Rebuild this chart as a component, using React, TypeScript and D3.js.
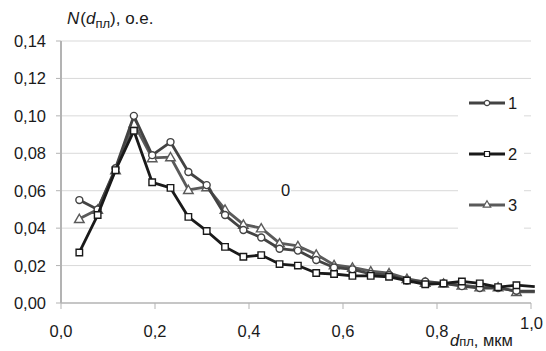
import React from 'react';
import * as d3 from 'd3';

const diameters = [0.039, 0.078, 0.116, 0.155, 0.194, 0.233, 0.271, 0.310, 0.349, 0.388, 0.426, 0.465, 0.504,
    0.543, 0.581, 0.620, 0.659, 0.698, 0.736, 0.775, 0.814, 0.853, 0.891, 0.930, 0.969, 1.008];

const series1 = [0.055, 0.050, 0.072, 0.100, 0.079, 0.086, 0.070, 0.063, 0.047, 0.039, 0.035, 0.029, 0.028,
    0.023, 0.019, 0.018, 0.0155, 0.015, 0.012, 0.0115, 0.0105, 0.009, 0.008, 0.008, 0.0065, 0.0063];
const series2 = [0.027, 0.047, 0.071, 0.092, 0.0645, 0.0615, 0.046, 0.0385, 0.030, 0.0247, 0.0256, 0.0208, 0.020,
    0.016, 0.0155, 0.0145, 0.0145, 0.014, 0.012, 0.010, 0.0105, 0.0115, 0.0105, 0.0085, 0.0095, 0.0088];
const series3 = [0.045, 0.050, 0.071, 0.096, 0.0775, 0.078, 0.0605, 0.062, 0.050, 0.042, 0.040, 0.032, 0.0305,
    0.026, 0.0203, 0.019, 0.017, 0.016, 0.013, 0.011, 0.0105, 0.0095, 0.0085, 0.0085, 0.006, 0.006];

const seriesNames = ['1', '2', '3'];
const yTicks = [0, 0.02, 0.04, 0.06, 0.08, 0.1, 0.12, 0.14];
const yTickLabels = ['0,00', '0,02', '0,04', '0,06', '0,08', '0,10', '0,12', '0,14'];
const xTicks = [0, 0.2, 0.4, 0.6, 0.8, 1.0];
const xTickLabels = ['0,0', '0,2', '0,4', '0,6', '0,8', '1,0'];

const font = 'Liberation Sans, Arial, sans-serif';

export default function App() {
    const width = 546, height = 351;
    const margin = {top: 41, right: 15, bottom: 48, left: 61};
    const x = d3.scaleLinear().domain([0, 1]).range([margin.left, width - margin.right]);
    const y = d3.scaleLinear().domain([0, 0.14]).range([height - margin.bottom, margin.top]);

    const lines = [
        {name: seriesNames[2], values: series3, color: '#5a5a5a', symbol: d3.symbolTriangle, size: 40},
        {name: seriesNames[0], values: series1, color: '#434343', symbol: d3.symbolCircle, size: 38},
        {name: seriesNames[1], values: series2, color: '#1a1a1a', symbol: d3.symbolSquare, size: 42},
    ];
    const legendOrder = [lines[1], lines[2], lines[0]];

    const line = d3.line<number>()
        .x((_, i) => x(diameters[i]))
        .y(d => y(d));

    // legend box hides the grid behind it
    const legendX = 458, legendW = 66;
    const legendY = 84, legendH = 150;

    return (
        <svg width={width} height={height} style={{position: 'absolute', left: 0, top: 0}}
             fontFamily={font}>
            <rect width={width} height={height} fill="white"/>
            {yTicks.slice(1).map(t => (
                <line key={t} x1={x(0)} x2={x(1)} y1={y(t)} y2={y(t)} stroke="#d9d9d9" strokeWidth={1}/>
            ))}
            <rect x={legendX} y={legendY} width={legendW} height={legendH} fill="white"/>

            {/* axes */}
            <line x1={x(0)} x2={x(0)} y1={y(0.14)} y2={y(0)} stroke="#b3b3b3" strokeWidth={2}/>
            {yTicks.map(t => (
                <line key={t} x1={x(0) - 5} x2={x(0)} y1={y(t)} y2={y(t)} stroke="#b3b3b3" strokeWidth={1}/>
            ))}
            <line x1={x(0)} x2={x(1)} y1={y(0)} y2={y(0)} stroke="#b3b3b3" strokeWidth={1.5}/>
            {xTicks.map(t => (
                <line key={t} x1={x(t)} x2={x(t)} y1={y(0)} y2={y(0) + 6} stroke="#b3b3b3" strokeWidth={1}/>
            ))}
            {yTicks.map((t, i) => (
                <text key={t} x={x(0) - 15} y={y(t)} dy="0.36em" textAnchor="end" fontSize={16.5}
                      fill="#1a1a1a">{yTickLabels[i]}</text>
            ))}
            {xTicks.map((t, i) => (
                <text key={t} x={x(t)} y={y(0) + 28 - (i === xTicks.length - 1 ? 8 : 0)} dy="0.36em"
                      textAnchor={i === xTicks.length - 1 ? 'start' : 'middle'}
                      dx={i === xTicks.length - 1 ? -11 : 0}
                      fontSize={16.5} fill="#1a1a1a">{xTickLabels[i]}</text>
            ))}

            {/* axis titles */}
            <text x={67} y={24} fontSize={17} fill="#1a1a1a">
                <tspan fontStyle="italic">N</tspan>
                <tspan dx={1}>(</tspan>
                <tspan fontStyle="italic">d</tspan>
                <tspan fontSize={13} dy={4}>пл</tspan>
                <tspan dy={-4}>), о.е.</tspan>
            </text>
            <text x={450} y={346} fontSize={16.5} fill="#1a1a1a">
                <tspan fontStyle="italic">d</tspan>
                <tspan fontSize={13}>пл</tspan>
                <tspan>, мкм</tspan>
            </text>

            {/* stray label */}
            <rect x={280} y={182} width={11} height={17} fill="white"/>
            <text x={285.5} y={190} dy="0.36em" textAnchor="middle" fontSize={16.5} fill="#1a1a1a">0</text>

            {lines.map(s => (
                <g key={s.name}>
                    <path d={line(s.values) ?? ''} fill="none" stroke={s.color} strokeWidth={2.8}
                          strokeLinejoin="round"/>
                    {s.values.map((v, i) => diameters[i] <= 1 ? (
                        <path key={i} d={d3.symbol(s.symbol, s.size)() ?? ''}
                              transform={`translate(${x(diameters[i])},${y(v) + (s.symbol === d3.symbolTriangle ? 1 : 0)})`}
                              fill="white" stroke={s.color} strokeWidth={1.4}/>
                    ) : null)}
                </g>
            ))}

            {/* legend */}
            {legendOrder.map((s, i) => {
                const ly = 103 + i * 51;
                return (
                    <g key={s.name}>
                        <line x1={469} x2={505} y1={ly} y2={ly} stroke={s.color} strokeWidth={2.8}/>
                        <path d={d3.symbol(s.symbol, s.size * 0.6)() ?? ''}
                              transform={`translate(487,${ly})`} fill="white" stroke={s.color} strokeWidth={1.2}/>
                        <text x={508} y={ly} dy="0.36em" fontSize={16.5} fill="#1a1a1a">{s.name}</text>
                    </g>
                );
            })}
        </svg>
    );
}
